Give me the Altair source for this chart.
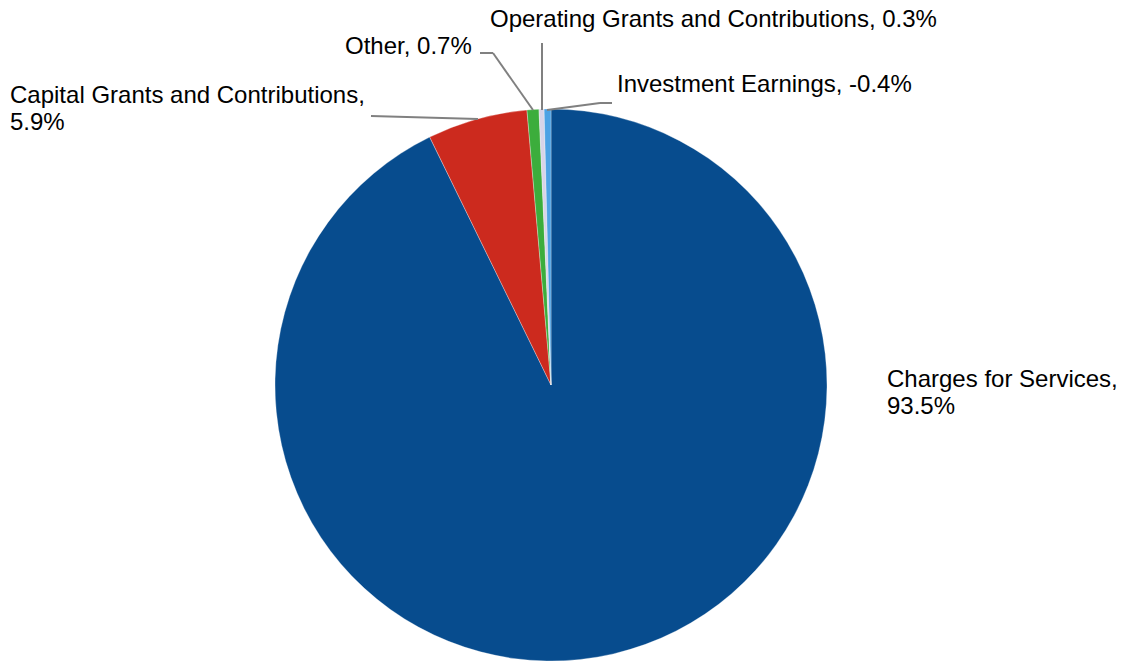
import altair as alt
import pandas as pd

# Data
categories = ["Charges for Services", "Capital Grants and Contributions", "Other",
              "Operating Grants and Contributions", "Investment Earnings"]
values = [93.5, 5.9, 0.7, 0.3, -0.4]
label_texts = ["Charges for Services,\n93.5%", "Capital Grants and Contributions,\n5.9%",
               "Other, 0.7%", "Operating Grants and Contributions, 0.3%",
               "Investment Earnings, -0.4%"]

# Styles / layout (not data)
colors = ["#074C8E", "#CC2A1E", "#3CAD3C", "#D8D4E8", "#4DA2E4"]
label_x = [887, 10, 345, 490, 617]
label_y = [387, 103, 54, 27, 92]
# leader line segments (pixel positions)
seg_x = [371, 480, 493, 542, 547, 600]
seg_y = [116, 53, 53, 43, 110, 103]
seg_x2 = [478, 493, 533, 542, 600, 612]
seg_y2 = [119, 53, 110, 110, 103, 103]

CX, CY, R = 551, 385, 276

pie_df = pd.DataFrame({"category": categories, "value": values, "order": range(len(values))})
lab_df = pd.DataFrame({"text": label_texts, "lx": label_x, "ly": label_y})
seg_df = pd.DataFrame({"x": seg_x, "y": seg_y, "x2": seg_x2, "y2": seg_y2})

pie = alt.Chart(pie_df).transform_calculate(
    share="abs(datum.value)"
).mark_arc(outerRadius=R, stroke="#ffffff", strokeWidth=0.3).encode(
    theta=alt.Theta("share:Q", stack=True),
    order=alt.Order("order:Q"),
    color=alt.Color("category:N", sort=categories,
                    scale=alt.Scale(domain=categories, range=colors), legend=None),
    x=alt.value(CX),
    y=alt.value(CY),
)

leaders = alt.Chart(seg_df).mark_rule(color="#808080", strokeWidth=2).encode(
    x=alt.X("x:Q", scale=None), y=alt.Y("y:Q", scale=None),
    x2="x2:Q", y2="y2:Q",
)

labels = alt.Chart(lab_df).mark_text(
    align="left", baseline="alphabetic", fontSize=24, font="Liberation Sans",
    color="#000000", lineBreak="\n", lineHeight=27,
).encode(
    x=alt.X("lx:Q", scale=None), y=alt.Y("ly:Q", scale=None), text="text:N",
)

chart = alt.layer(pie, leaders, labels).properties(
    width=1124, height=663, autosize=alt.AutoSizeParams(type="none"), padding=0,
    background="#ffffff",
).configure_view(stroke=None)

chart.save("out.html", embed_options={"renderer": "svg", "actions": False})
